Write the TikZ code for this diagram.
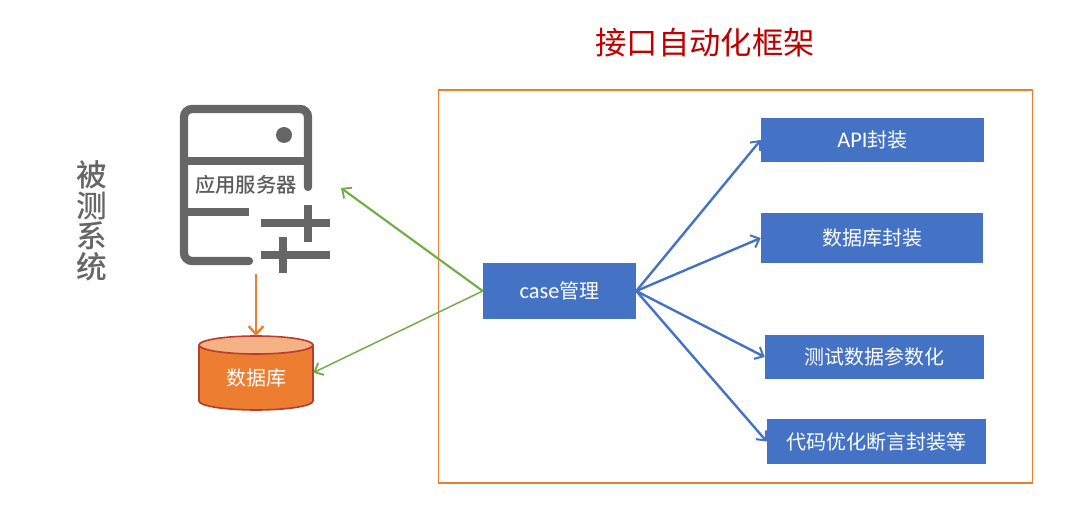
\documentclass[tikz,border=0pt]{standalone}
\usepackage{fontspec}
\setmainfont{Noto Sans CJK SC}
\newfontfamily\lat{Carlito}[Scale=1.12]
\newfontfamily\medf{Noto Sans CJK SC Medium}
\usetikzlibrary{arrows.meta}
\definecolor{blueb}{HTML}{4472C4}
\definecolor{orangeb}{HTML}{ED7D31}
\definecolor{greenl}{HTML}{70AD47}
\definecolor{grayi}{HTML}{666666}
\definecolor{redd}{HTML}{C00000}
\definecolor{dbtop}{HTML}{F4B183}
\definecolor{dbline}{HTML}{B83C30}
\tikzset{
  bluebox/.style={draw=none,fill=blueb,text=white,inner sep=0pt,font=\fontsize{15}{18}\selectfont},
  bluearrow/.style={draw=blueb,line width=1.8pt,-{Straight Barb[length=5.5pt,width=10pt,line width=1.5pt]}},
  greenarrow/.style={draw=greenl,line width=1.6pt,-{Straight Barb[length=5.5pt,width=10pt,line width=1.4pt]}},
  orangearrow/.style={draw=orangeb,line width=2.2pt,-{Straight Barb[length=6pt,width=11pt,line width=1.8pt]}},
  iconline/.style={draw=grayi,line width=6.2pt},
}
\begin{document}
\begin{tikzpicture}[x=0.75pt,y=-0.75pt]
\useasboundingbox (0,0) rectangle (1080,509);
% frame
\node[draw=orangeb,line width=1.3pt,minimum width=445.5pt,minimum height=294.5pt,inner sep=0pt] (frame) at (735.5,286.5) {};
% title
\node[text=redd,font=\fontsize{23.5}{26}\selectfont] (title) at (705,43) {接口自动化框架};
% side label
\node[text=grayi,align=center,font=\fontsize{23}{23}\selectfont\medf] (sut) at (91.5,221) {被\\测\\系\\统};
% server icon
\draw[iconline,line cap=round,rounded corners=6pt] (249,261) -- (184,261) -- (184,109) -- (308,109) -- (308,187);
\draw[iconline] (184,161) -- (308,161);
\draw[iconline] (184,212) -- (249,212);
\fill[grayi] (284,135) circle[radius=6pt];
\draw[iconline] (261,223) -- (330,223);
\draw[iconline] (308,205) -- (308,242);
\draw[iconline] (261,255) -- (330,255);
\draw[iconline] (283,237) -- (283,273);
\node[text=grayi!90!black,font=\fontsize{15.2}{18}\selectfont\medf] (server) at (246,184.5) {应用服务器};
\coordinate (serverport) at (341,188);
\coordinate (serverbottom) at (256,274);
% database
\draw[dbline,line width=1.2pt,fill=orangeb] (199,345) -- (199,401) arc[start angle=180,end angle=0,x radius=57,y radius=9] -- (313,345);
\draw[dbline,line width=1.2pt,fill=dbtop] (256,345) ellipse[x radius=57,y radius=9];
\node[minimum width=85.5pt,minimum height=42pt,inner sep=0pt,text=white,font=\fontsize{15}{18}\selectfont] (db) at (256,378) {数据库};
\coordinate (dbtopc) at (256,336);
% boxes
\node[bluebox,minimum width=114.75pt,minimum height=42pt] (case) at (559.5,291) {{\lat case}管理};
\node[bluebox,minimum width=167.25pt,minimum height=33pt] (api) at (872.5,140) {\raisebox{-0.7pt}{{\lat API}封装}};
\node[bluebox,minimum width=166.5pt,minimum height=37.5pt] (dbw) at (872,238) {数据库封装};
\node[bluebox,minimum width=164.25pt,minimum height=33pt] (param) at (874.5,357) {测试数据参数化};
\node[bluebox,minimum width=164.25pt,minimum height=33.75pt] (code) at (876.5,441.5) {代码优化断言封装等};
% connectors
\draw[bluearrow] (case.east) -- (api.west);
\draw[bluearrow] (case.east) -- (dbw.west);
\draw[bluearrow] (case.east) -- (param.west);
\draw[bluearrow] (case.east) -- (code.west);
\draw[greenarrow] (case.west) -- (serverport);
\draw[greenarrow,line width=1.1pt] (case.west) -- ([yshift=4pt]db.east);
\draw[orangearrow] (serverbottom) -- (dbtopc);
\end{tikzpicture}
\end{document}
